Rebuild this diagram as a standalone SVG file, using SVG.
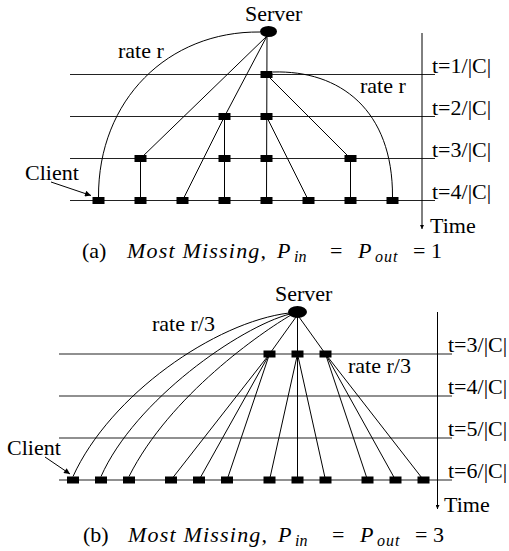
<svg xmlns="http://www.w3.org/2000/svg" width="509" height="551" viewBox="0 0 509 551">
<style>
.lbl{font-family:"Liberation Serif","Times New Roman",serif;font-size:22px;fill:#000}
.it{font-style:italic}
.sub{font-style:italic;font-size:16px}
.hl{stroke:#222;stroke-width:1.2;fill:none}
.ln{stroke:#000;stroke-width:1;fill:none}
.nd{fill:#000}
</style>
<defs>
<marker id="ah" viewBox="0 0 10 10" refX="10" refY="5" markerWidth="8" markerHeight="6" markerUnits="userSpaceOnUse" orient="auto">
<path d="M0,0 L10,5 L0,10 z" fill="#000"/>
</marker>
<marker id="ta" viewBox="0 0 10 10" refX="10" refY="5" markerWidth="7" markerHeight="4" markerUnits="userSpaceOnUse" orient="auto">
<path d="M0,0 L10,5 L0,10 z" fill="#000"/>
</marker>
</defs>

<g id="timelines">
<line class="hl" x1="70" y1="74.5" x2="435" y2="74.5"/>
<line class="hl" x1="70" y1="116.5" x2="435" y2="116.5"/>
<line class="hl" x1="70" y1="158.5" x2="435" y2="158.5"/>
<line class="hl" x1="70" y1="200.5" x2="435" y2="200.5"/>
<line class="hl" x1="59" y1="354" x2="452" y2="354"/>
<line class="hl" x1="59" y1="396" x2="452" y2="396"/>
<line class="hl" x1="59" y1="438" x2="452" y2="438"/>
<line class="hl" x1="59" y1="480" x2="452" y2="480"/>
<line class="ln" x1="422" y1="33" x2="422" y2="229" marker-end="url(#ta)"/>
<line class="ln" x1="437.5" y1="312" x2="437.5" y2="509" marker-end="url(#ta)"/>
<text class="lbl" x="432" y="72.5">t=1/|C|</text>
<text class="lbl" x="432" y="114.5">t=2/|C|</text>
<text class="lbl" x="432" y="156.5">t=3/|C|</text>
<text class="lbl" x="432" y="198.5">t=4/|C|</text>
<text class="lbl" x="430" y="233">Time</text>
<text class="lbl" x="448" y="352">t=3/|C|</text>
<text class="lbl" x="448" y="394">t=4/|C|</text>
<text class="lbl" x="448" y="436">t=5/|C|</text>
<text class="lbl" x="448" y="478">t=6/|C|</text>
<text class="lbl" x="444" y="512">Time</text>
</g>

<g id="connectors">
<path class="ln" d="M260,32 C168,31 98,100 98.5,197"/>
<path class="ln" d="M273,72 C340,70 393,110 392.5,197"/>
<line class="ln" x1="267" y1="36" x2="140.5" y2="158.5"/>
<line class="ln" x1="267" y1="36" x2="224.5" y2="116.5"/>
<line class="ln" x1="267" y1="36" x2="266.5" y2="200.5"/>
<line class="ln" x1="224.5" y1="116.5" x2="182.5" y2="200.5"/>
<line class="ln" x1="224.5" y1="116.5" x2="224.5" y2="200.5"/>
<line class="ln" x1="266.5" y1="74.5" x2="350.5" y2="158.5"/>
<line class="ln" x1="266.5" y1="116.5" x2="308.5" y2="200.5"/>
<line class="ln" x1="140.5" y1="158.5" x2="140.5" y2="200.5"/>
<line class="ln" x1="350.5" y1="158.5" x2="350.5" y2="200.5"/>
<line class="ln" x1="51" y1="182" x2="91" y2="195.5" marker-end="url(#ah)"/>
<path class="ln" d="M289,313 C215,322 110,395 73,476.5"/>
<path class="ln" d="M290,314 C240,327 135,400 101,476.5"/>
<path class="ln" d="M291,315 C262,332 170,395 129,476.5"/>
<line class="ln" x1="296" y1="317" x2="269.5" y2="354"/>
<line class="ln" x1="299" y1="317" x2="325.5" y2="354"/>
<line class="ln" x1="297.5" y1="317" x2="297.5" y2="480"/>
<line class="ln" x1="269.5" y1="354" x2="171" y2="480"/>
<line class="ln" x1="269.5" y1="354" x2="199" y2="480"/>
<line class="ln" x1="269.5" y1="354" x2="227" y2="480"/>
<line class="ln" x1="297.5" y1="354" x2="269.5" y2="480"/>
<line class="ln" x1="297.5" y1="354" x2="325.5" y2="480"/>
<line class="ln" x1="325.5" y1="354" x2="367.5" y2="480"/>
<line class="ln" x1="325.5" y1="354" x2="395.5" y2="480"/>
<line class="ln" x1="325.5" y1="354" x2="423.5" y2="480"/>
<line class="ln" x1="45" y1="457" x2="70" y2="474" marker-end="url(#ah)"/>
</g>

<g id="a-server"><ellipse class="nd" cx="268.5" cy="31.5" rx="8.5" ry="5.5"/><text class="lbl" x="245" y="21">Server</text></g>
<g id="a-rate-left"><text class="lbl" x="118" y="58">rate r</text></g>
<g id="a-rate-right"><text class="lbl" x="360" y="93">rate r</text></g>
<g id="a-client"><text class="lbl" x="25" y="180">Client</text></g>
<g id="a-n1-1"><rect class="nd" x="260.5" y="71" width="12" height="7"/></g>
<g id="a-n2-1"><rect class="nd" x="218.5" y="113" width="12" height="7"/></g>
<g id="a-n2-2"><rect class="nd" x="260.5" y="113" width="12" height="7"/></g>
<g id="a-n3-1"><rect class="nd" x="134.5" y="155" width="12" height="7"/></g>
<g id="a-n3-2"><rect class="nd" x="218.5" y="155" width="12" height="7"/></g>
<g id="a-n3-3"><rect class="nd" x="260.5" y="155" width="12" height="7"/></g>
<g id="a-n3-4"><rect class="nd" x="344.5" y="155" width="12" height="7"/></g>
<g id="a-n4-1"><rect class="nd" x="92.5" y="197" width="12" height="7"/></g>
<g id="a-n4-2"><rect class="nd" x="134.5" y="197" width="12" height="7"/></g>
<g id="a-n4-3"><rect class="nd" x="176.5" y="197" width="12" height="7"/></g>
<g id="a-n4-4"><rect class="nd" x="218.5" y="197" width="12" height="7"/></g>
<g id="a-n4-5"><rect class="nd" x="260.5" y="197" width="12" height="7"/></g>
<g id="a-n4-6"><rect class="nd" x="302.5" y="197" width="12" height="7"/></g>
<g id="a-n4-7"><rect class="nd" x="344.5" y="197" width="12" height="7"/></g>
<g id="a-n4-8"><rect class="nd" x="386.5" y="197" width="12" height="7"/></g>

<g id="a-caption">
<text class="lbl" x="82" y="258">(a)</text>
<text class="lbl it" x="127" y="258" letter-spacing="1.2">Most Missing,</text>
<text class="lbl it" x="277" y="258">P</text>
<text class="lbl sub" x="294" y="262">in</text>
<text class="lbl" x="330" y="258">=</text>
<text class="lbl it" x="358" y="258">P</text>
<text class="lbl sub" x="375" y="262" letter-spacing="1">out</text>
<text class="lbl" x="413" y="258">=</text>
<text class="lbl" x="431" y="258">1</text>
</g>

<g id="b-server"><ellipse class="nd" cx="297.5" cy="312" rx="9.5" ry="6"/><text class="lbl" x="275" y="301">Server</text></g>
<g id="b-rate-left"><text class="lbl" x="152" y="331">rate r/3</text></g>
<g id="b-rate-right"><text class="lbl" x="348" y="373">rate r/3</text></g>
<g id="b-client"><text class="lbl" x="7" y="455">Client</text></g>
<g id="b-n1-1"><rect class="nd" x="263.5" y="350.5" width="12" height="7"/></g>
<g id="b-n1-2"><rect class="nd" x="291.5" y="350.5" width="12" height="7"/></g>
<g id="b-n1-3"><rect class="nd" x="319.5" y="350.5" width="12" height="7"/></g>
<g id="b-n2-1"><rect class="nd" x="67" y="476.5" width="12" height="7"/></g>
<g id="b-n2-2"><rect class="nd" x="95" y="476.5" width="12" height="7"/></g>
<g id="b-n2-3"><rect class="nd" x="123" y="476.5" width="12" height="7"/></g>
<g id="b-n2-4"><rect class="nd" x="165" y="476.5" width="12" height="7"/></g>
<g id="b-n2-5"><rect class="nd" x="193" y="476.5" width="12" height="7"/></g>
<g id="b-n2-6"><rect class="nd" x="221" y="476.5" width="12" height="7"/></g>
<g id="b-n2-7"><rect class="nd" x="263.5" y="476.5" width="12" height="7"/></g>
<g id="b-n2-8"><rect class="nd" x="291.5" y="476.5" width="12" height="7"/></g>
<g id="b-n2-9"><rect class="nd" x="319.5" y="476.5" width="12" height="7"/></g>
<g id="b-n2-10"><rect class="nd" x="361.5" y="476.5" width="12" height="7"/></g>
<g id="b-n2-11"><rect class="nd" x="389.5" y="476.5" width="12" height="7"/></g>
<g id="b-n2-12"><rect class="nd" x="417.5" y="476.5" width="12" height="7"/></g>

<g id="b-caption">
<text class="lbl" x="83" y="541.5">(b)</text>
<text class="lbl it" x="128" y="541.5" letter-spacing="1.2">Most Missing,</text>
<text class="lbl it" x="278" y="541.5">P</text>
<text class="lbl sub" x="295" y="545.5">in</text>
<text class="lbl" x="332" y="541.5">=</text>
<text class="lbl it" x="360" y="541.5">P</text>
<text class="lbl sub" x="377" y="545.5" letter-spacing="1">out</text>
<text class="lbl" x="415" y="541.5">=</text>
<text class="lbl" x="433" y="541.5">3</text>
</g>
</svg>
